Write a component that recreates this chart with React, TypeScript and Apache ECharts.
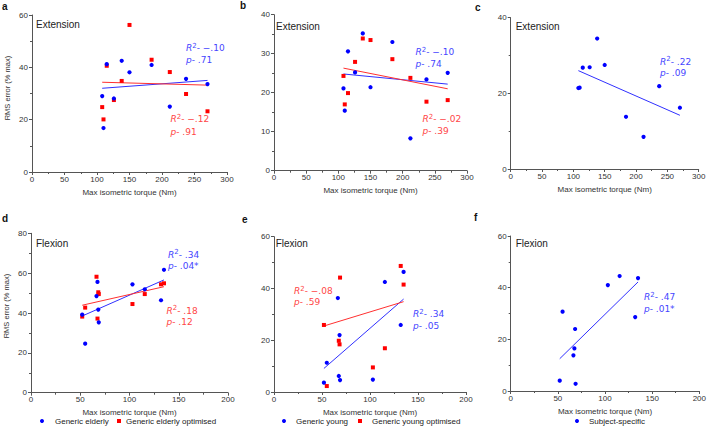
import { useEffect, useRef } from 'react';
import * as echarts from 'echarts';

// ---------- data ----------
const extTorque = [108, 110, 115, 126, 138, 150, 184, 212, 237, 270];
const flexTorque = [52, 55, 66.5, 67.5, 68.3, 68.8, 103, 115.5, 132, 135];

// a: extension, generic elderly
const extElderly = [29.0, 16.8, 41.2, 28.1, 42.5, 38.1, 40.9, 25.0, 35.6, 33.6];
const extElderlyOpt = [24.8, 20.1, 40.6, 27.5, 34.8, 56.2, 42.9, 38.2, 29.8, 23.2];
// b: extension, generic young
const extYoung = [21.1, 15.4, 30.6, 25.2, 35.2, 21.4, 33.0, 8.3, 23.4, 25.1];
const extYoungOpt = [24.3, 17.0, 19.9, 27.9, 33.9, 33.5, 28.6, 23.8, 17.7, 18.1];
// c: extension, subject-specific
const extSubject = [21.4, 21.5, 26.8, 26.9, 34.5, 27.5, 13.8, 8.5, 21.9, 16.2];
// d: flexion, generic elderly
const flexElderly = [39.2, 24.6, 48.5, 55.6, 41.7, 35.3, 54.4, 51.9, 46.4, 61.7];
const flexElderlyOpt = [38.2, 42.7, 58.2, 37.2, 50.4, 49.5, 44.5, 49.5, 54.4, 54.9];
// e: flexion, generic young
const flexYoung = [3.6, 11.3, 36.3, 6.2, 22.0, 4.6, 4.8, 42.5, 25.9, 46.4];
const flexYoungOpt = [25.9, 2.3, null, 19.8, 18.4, 44.2, 9.5, 16.9, 48.7, 41.5];
// f: flexion, subject-specific
const flexSubject = [4.0, 30.7, 13.8, 16.5, 24.0, 2.8, 41.0, 44.5, 28.6, 43.7];

// fitted regression lines: [x0, y0, x1, y1]
const fitExtElderly = [108, 32.0, 270, 35.0];
const fitExtElderlyOpt = [108, 34.3, 270, 33.2];
const fitExtYoung = [108, 24.8, 270, 22.2];
const fitExtYoungOpt = [108, 26.3, 270, 21.0];
const fitExtSubject = [108, 26.0, 270, 14.2];
const fitFlexElderly = [52, 38.5, 135, 56.6];
const fitFlexElderlyOpt = [52, 43.9, 135, 53.2];
const fitFlexYoung = [52, 9.1, 135, 35.9];
const fitFlexYoungOpt = [52, 25.5, 135, 34.9];
const fitFlexSubject = [52, 12.5, 135, 42.2];

// statistics labels
const statR2 = ['−.10', '−.12', '−.10', '−.02', '.22', '.34', '.18', '−.08', '.34', '.47'];
const statP = ['.71', '.91', '.74', '.39', '.09', '.04*', '.12', '.59', '.05', '.01*'];

const panelLetters = ['a', 'b', 'c', 'd', 'e', 'f'];
const panelTitles = ['Extension', 'Extension', 'Extension', 'Flexion', 'Flexion', 'Flexion'];
const extTicks = { max: 300, interval: 50 };
const flexTicks = { max: 200, interval: 50 };
const yMaxes = [60, 40, 40, 80, 60, 60];
const yIntervals = [20, 10, 20, 20, 20, 20];

const FONT = 'Liberation Sans, Arial, sans-serif';
const BLUE = '#0000ff';
const RED = '#ff0000';
const BLUE_T = '#4646ff';
const RED_T = '#ff4646';
const AX = '#555555';

function pairs(xs: number[], ys: (number | null)[]) {
  const out: number[][] = [];
  xs.forEach((x, i) => {
    const y = ys[i];
    if (y !== null && y !== undefined) out.push([x, y]);
  });
  return out;
}

export default function App() {
  const ref = useRef<HTMLDivElement>(null);
  useEffect(() => {
    if (!ref.current) return;
    const chart = echarts.init(ref.current, null, { renderer: 'svg' });

    const grids = [
      { left: 32, top: 15, width: 195, height: 157 },
      { left: 274, top: 14.7, width: 193, height: 156 },
      { left: 510.7, top: 17.7, width: 188, height: 151.3 },
      { left: 31, top: 233.3, width: 197, height: 159.4 },
      { left: 274, top: 236.7, width: 192, height: 155.3 },
      { left: 510.7, top: 236, width: 189.3, height: 155 },
    ];

    const xAxes = grids.map((_, i) => {
      const t = i < 3 ? extTicks : flexTicks;
      return {
        gridIndex: i,
        type: 'value',
        min: 0,
        max: t.max,
        interval: t.interval,
        name: 'Max isometric torque (Nm)',
        nameLocation: 'middle',
        nameGap: 16,
        nameTextStyle: { fontSize: 8, color: '#333', fontFamily: FONT },
        axisLine: { show: true, onZero: false, lineStyle: { color: AX, width: 1 } },
        axisTick: { show: true, length: 3, lineStyle: { color: AX } },
        minorTick: { show: true, splitNumber: 2, length: 2, lineStyle: { color: AX } },
        axisLabel: { fontSize: 8, color: '#333', margin: 3, fontFamily: FONT },
        splitLine: { show: false },
      };
    });

    const yAxes = grids.map((_, i) => ({
      gridIndex: i,
      type: 'value',
      min: 0,
      max: yMaxes[i],
      interval: yIntervals[i],
      axisLine: { show: true, onZero: false, lineStyle: { color: AX, width: 1 } },
      axisTick: { show: true, length: 3, lineStyle: { color: AX } },
      minorTick: { show: true, splitNumber: 2, length: 2, lineStyle: { color: AX } },
      axisLabel: { fontSize: 8, color: '#333', margin: 4, fontFamily: FONT },
      splitLine: { show: false },
    }));

    const scatter = (i: number, name: string, ys: (number | null)[], xs: number[], color: string, symbol: string) => ({
      type: 'scatter',
      name,
      xAxisIndex: i,
      yAxisIndex: i,
      data: pairs(xs, ys),
      symbol,
      symbolSize: symbol === 'rect' ? 4 : 4.2,
      itemStyle: { color, opacity: 1 },
      z: 3,
    });
    const fit = (i: number, f: number[], color: string) => ({
      type: 'line',
      xAxisIndex: i,
      yAxisIndex: i,
      data: [[f[0], f[1]], [f[2], f[3]]],
      symbol: 'none',
      silent: true,
      lineStyle: { color, width: 1 },
      z: 2,
    });

    const series = [
      scatter(0, 'Generic elderly optimised', extElderlyOpt, extTorque, RED, 'rect'),
      scatter(0, 'Generic elderly', extElderly, extTorque, BLUE, 'circle'),
      fit(0, fitExtElderly, '#3030ff'),
      fit(0, fitExtElderlyOpt, '#ff3030'),
      scatter(1, 'Generic young optimised', extYoungOpt, extTorque, RED, 'rect'),
      scatter(1, 'Generic young', extYoung, extTorque, BLUE, 'circle'),
      fit(1, fitExtYoung, '#3030ff'),
      fit(1, fitExtYoungOpt, '#ff3030'),
      scatter(2, 'Subject-specific', extSubject, extTorque, BLUE, 'circle'),
      fit(2, fitExtSubject, '#3030ff'),
      scatter(3, 'Generic elderly optimised', flexElderlyOpt, flexTorque, RED, 'rect'),
      scatter(3, 'Generic elderly', flexElderly, flexTorque, BLUE, 'circle'),
      fit(3, fitFlexElderly, '#3030ff'),
      fit(3, fitFlexElderlyOpt, '#ff3030'),
      scatter(4, 'Generic young optimised', flexYoungOpt, flexTorque, RED, 'rect'),
      scatter(4, 'Generic young', flexYoung, flexTorque, BLUE, 'circle'),
      fit(4, fitFlexYoung, '#3030ff'),
      fit(4, fitFlexYoungOpt, '#ff3030'),
      scatter(5, 'Subject-specific', flexSubject, flexTorque, BLUE, 'circle'),
      fit(5, fitFlexSubject, '#3030ff'),
    ];

    const legendItem = (name: string, icon: string, left: number, pad: number) => ({
      data: [{ name, icon }],
      left,
      top: 417,
      itemWidth: 4,
      itemHeight: 4,
      padding: 0,
      selectedMode: false,
      textStyle: { fontSize: 8, color: '#222', fontFamily: FONT, padding: [0, 0, 0, pad] },
    });
    const legends = [
      legendItem('Generic elderly', 'circle', 40, 6),
      legendItem('Generic elderly optimised', 'rect', 117, 0),
      legendItem('Generic young', 'circle', 282, 5),
      legendItem('Generic young optimised', 'rect', 358, 5),
      legendItem('Subject-specific', 'circle', 575, 5),
    ];

    const graphics: any[] = [];
    const letterPos = [[2, 6.5], [240, 5.5], [475, 7], [2, 218.5], [242, 219.5], [474, 217.5]];
    const titlePos = [[36, 24.5], [276, 26], [515.7, 26.7], [36, 243.3], [275.7, 243.3], [515.7, 243.7]];
    panelLetters.forEach((l, i) => {
      graphics.push({
        type: 'text', x: letterPos[i][0], y: letterPos[i][1],
        style: { text: l, fontSize: 10, fontWeight: 'bold', fontFamily: FONT, fill: '#111', verticalAlign: 'middle' },
      });
      graphics.push({
        type: 'text', x: titlePos[i][0], y: titlePos[i][1],
        style: { text: panelTitles[i], fontSize: 10, fontFamily: FONT, fill: '#222', verticalAlign: 'middle' },
      });
    });
    // y axis titles
    [[7, 88], [6, 306]].forEach(([x, y]) => {
      graphics.push({
        type: 'text', x, y, rotation: Math.PI / 2,
        style: { text: 'RMS error (% max)', fontSize: 7.5, fontFamily: FONT, fill: '#333', align: 'center', verticalAlign: 'middle' },
      });
    });
    // stats labels: [x, yR2, yP, color]
    const statPos: [number, number, number, string][] = [
      [186, 48, 59.5, BLUE_T],
      [170.5, 119, 131.5, RED_T],
      [415.5, 52, 64, BLUE_T],
      [422.5, 119, 130.5, RED_T],
      [660, 61.5, 72.5, BLUE_T],
      [168, 254.5, 265.5, BLUE_T],
      [166.5, 310.5, 322, RED_T],
      [294, 291, 302, RED_T],
      [413, 314, 325.5, BLUE_T],
      [644, 297, 308.5, BLUE_T],
    ];
    statPos.forEach(([x, y1, y2, c], k) => {
      graphics.push({
        type: 'text', x, y: y1,
        style: {
          text: `{i|R}{s|2}{n|- ${statR2[k]}}`,
          verticalAlign: 'middle',
          rich: {
            i: { fontStyle: 'italic', fontSize: 9, fill: c, fontFamily: 'DejaVu Sans', lineHeight: 12 },
            s: { fontSize: 7, fill: c, fontFamily: 'DejaVu Sans', verticalAlign: 'top', lineHeight: 12 },
            n: { fontSize: 9, fill: c, fontFamily: 'DejaVu Sans', lineHeight: 12 },
          },
        },
      });
      graphics.push({
        type: 'text', x, y: y2,
        style: {
          text: `{i|p}{n|- ${statP[k]}}`,
          verticalAlign: 'middle',
          rich: {
            i: { fontStyle: 'italic', fontSize: 9, fill: c, fontFamily: 'DejaVu Sans' },
            n: { fontSize: 9, fill: c, fontFamily: 'DejaVu Sans' },
          },
        },
      });
    });

    chart.setOption({
      animation: false,
      backgroundColor: '#ffffff',
      grid: grids,
      xAxis: xAxes,
      yAxis: yAxes,
      series,
      legend: legends,
      graphic: graphics,
    } as any);

    return () => chart.dispose();
  }, []);

  return (
    <div
      ref={ref}
      style={{ position: 'fixed', left: 0, top: 0, width: 709, height: 428, background: '#fff' }}
    />
  );
}
